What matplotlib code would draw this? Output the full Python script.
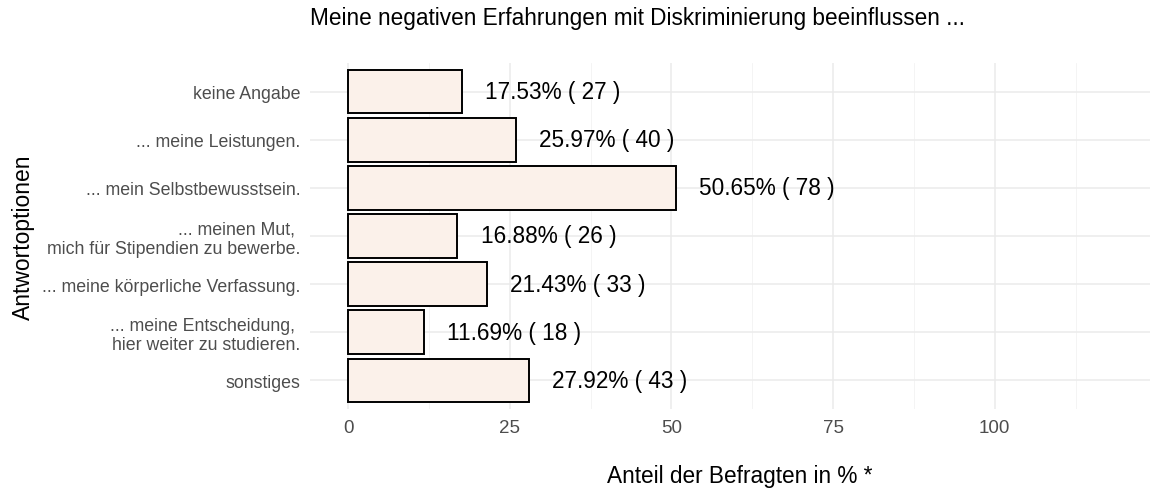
import matplotlib
matplotlib.use("Agg")
import matplotlib.pyplot as plt
from matplotlib.ticker import MultipleLocator

plt.rcParams['font.family'] = ['Liberation Sans', 'DejaVu Sans']

categories = ["keine Angabe", "... meine Leistungen.", "... mein Selbstbewusstsein.",
              "... meinen Mut, \nmich für Stipendien zu bewerbe.",
              "... meine körperliche Verfassung.",
              "... meine Entscheidung, \nhier weiter zu studieren.", "sonstiges"]
percent = [17.53, 25.97, 50.65, 16.88, 21.43, 11.69, 27.92]
counts = [27, 40, 78, 26, 33, 18, 43]
xticks = [0, 25, 50, 75, 100]

fig = plt.figure(figsize=(11.55, 4.89), dpi=100)
ax = fig.add_axes([310/1155, 1-410/489, (1150-310)/1155, (410-64)/489])

ypos = list(range(len(categories)))[::-1]
ax.barh(ypos, percent, height=0.9, color="#FBF1EA", edgecolor="black", linewidth=1.4, zorder=3)
for y, p, c in zip(ypos, percent, counts):
    ax.text(p + 3.6, y, f"{p:.2f}% ( {c} )", va="center", ha="left", fontsize=16.3, color="black", zorder=4)

ax.set_xlim(-5.9, 124)
ax.set_ylim(-0.6, len(categories) - 0.4)
ax.set_yticks(ypos)
ax.set_yticklabels(categories, fontsize=12.8, color="#4D4D4D", linespacing=1.15)
ax.set_xticks(xticks)
ax.set_xticklabels([str(t) for t in xticks], fontsize=13.5, color="#4D4D4D")
ax.xaxis.set_minor_locator(MultipleLocator(12.5))
ax.grid(True, which="major", color="#EBEBEB", linewidth=1.1, zorder=0)
ax.grid(True, which="minor", axis="x", color="#F3F3F3", linewidth=0.6, zorder=0)
ax.tick_params(axis="y", which="both", length=0, pad=7)
ax.tick_params(axis="x", which="both", length=0, pad=7)
for s in ax.spines.values():
    s.set_visible(False)

ax.set_xlabel("Anteil der Befragten in % *", fontsize=16.3)
ax.xaxis.set_label_coords((740-310)/840, -(477-410)/346)
ax.xaxis.label.set_va("center")
ax.set_ylabel("Antwortoptionen", fontsize=16.5)
ax.yaxis.set_label_coords((23-310)/840, 0.5)
ax.yaxis.label.set_va("center")
fig.text(310/1155, 1-18/489, "Meine negativen Erfahrungen mit Diskriminierung beeinflussen ...",
         fontsize=16.3, ha="left", va="center")

fig.savefig("out.png", dpi=100)
